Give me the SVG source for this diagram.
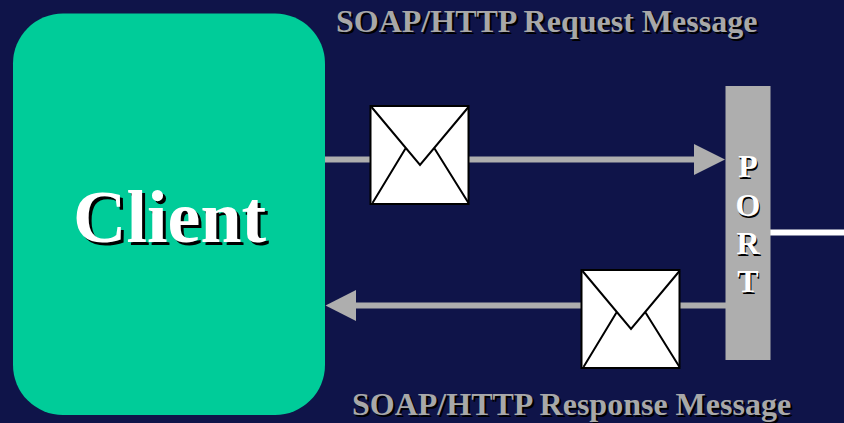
<svg xmlns="http://www.w3.org/2000/svg" width="844" height="423" viewBox="0 0 844 423">
<defs>
<style>
text{font-family:"Liberation Serif","Times New Roman",serif;font-weight:bold}
.cap{font-size:32px;fill:#a8a8a8;text-shadow:2px 2px 0 #000}
.port{font-size:32px;text-anchor:middle;fill:#fff;text-shadow:1px 2px 0 #000}
.client{font-size:74px;fill:#fff;text-shadow:3px 3px 0 #000}
.conn{stroke:#aeaeae;stroke-width:6;fill:none}
.head{fill:#aeaeae}
.env{fill:#fff;stroke:#000;stroke-width:2}
.flap{fill:none;stroke:#000;stroke-width:2}
</style>
<g id="envelope">
<rect class="env" x="0" y="0" width="98" height="98"/>
<path class="flap" d="M1 1L49.500 59L98 1M35 42.500L2 97M64 42.500L98 97"/>
</g>
</defs>
<rect width="844" height="423" fill="#0f1449"/>
<g id="connectors">
<path class="conn" d="M325 159.500H696"/>
<polygon class="head" points="694,144 725,159.500 694,175"/>
<path class="conn" d="M726 305.500H354"/>
<polygon class="head" points="325.500,305.500 356,290 356,321"/>
<path d="M770 232.500H844" stroke="#fff" stroke-width="6" fill="none"/>
</g>
<g id="client">
<rect x="13" y="13.500" width="312" height="401.500" rx="50" ry="50" fill="#00cc99"/>
<text x="73" y="242" class="client">Client</text>
</g>
<g id="port">
<rect x="725.500" y="86" width="45" height="274" fill="#aeaeae"/>
<text class="port" x="748" y="177">P</text>
<text class="port" x="748" y="216">O</text>
<text class="port" x="748" y="254">R</text>
<text class="port" x="748" y="292">T</text>
</g>
<g id="request-message"><use href="#envelope" x="370.500" y="106"/></g>
<g id="response-message"><use href="#envelope" x="581.500" y="270"/></g>
<g id="request-label">
<text class="cap" x="336" y="32">SOAP/HTTP Request Message</text>
</g>
<g id="response-label">
<text class="cap" x="352" y="415">SOAP/HTTP Response Message</text>
</g>
</svg>
